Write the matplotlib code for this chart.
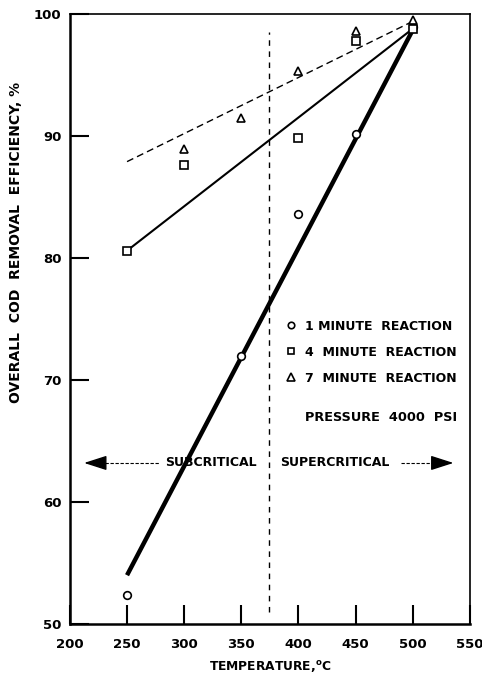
import numpy as np
import matplotlib
matplotlib.use("Agg")
import matplotlib.pyplot as plt

plt.rcParams['font.family'] = ['DejaVu Sans']
plt.rcParams['font.weight'] = 'bold'

# measured COD removal (%) against reactor temperature (C)
temp_1min = [250, 350, 400, 450, 500]
cod_1min = [52.4, 72.0, 83.6, 90.2, 98.9]

temp_4min = [250, 300, 400, 450, 500]
cod_4min = [80.6, 87.6, 89.8, 97.8, 98.8]

temp_7min = [300, 350, 400, 450, 500]
cod_7min = [88.9, 91.5, 95.3, 98.6, 99.5]

# hand-fitted trend lines (end points)
fit_temp = [250, 500]
fit_1min = [54.0, 98.7]
fit_4min = [80.6, 98.8]
fit_7min = [87.9, 99.4]

critical_temp = 374
critical_span = [51.0, 98.5]

xticks = [200, 250, 300, 350, 400, 450, 500, 550]
yticks = [50, 60, 70, 80, 90, 100]

fig = plt.figure(figsize=(4.82, 6.74), dpi=100)
ax = fig.add_axes([0.145, 0.0742, 0.830, 0.905])

ax.plot(fit_temp, fit_1min, color='black', lw=3.2, solid_capstyle='butt', zorder=2)
ax.plot(fit_temp, fit_4min, color='black', lw=1.5, zorder=2)
ax.plot(fit_temp, fit_7min, color='black', lw=1.0, ls=(0, (5, 3)), zorder=2)
ax.plot([critical_temp, critical_temp], critical_span, color='black', lw=1.0,
        ls=(0, (4, 4)), zorder=1)

mk = dict(ls='none', mfc='white', mec='black', mew=1.2, zorder=3)
h1, = ax.plot(temp_1min, cod_1min, marker='o', ms=5.5, label='1 MINUTE  REACTION', **mk)
h2, = ax.plot(temp_4min, cod_4min, marker='s', ms=5.5, label='4  MINUTE  REACTION', **mk)
h3, = ax.plot(temp_7min, cod_7min, marker='^', ms=6, label='7  MINUTE  REACTION', **mk)

leg = ax.legend(handles=[h1, h2, h3], frameon=False, loc='upper left',
                bbox_to_anchor=(0.5425, 0.499), borderaxespad=0, borderpad=0,
                handlelength=0.6, handletextpad=0.85, markerscale=0.85,
                labelspacing=1.05, prop={'size': 9, 'weight': 'bold'})

ax.text(0.5875, 0.338, 'PRESSURE  4000  PSI', transform=ax.transAxes,
        fontsize=9.3, fontweight='bold', va='center', ha='left')

# sub/supercritical arrows
y_arrow = 63.2
ax.plot([226, 278], [y_arrow, y_arrow], color='black', lw=0.8, ls=(0, (3, 1.5)))
ax.plot([490, 524], [y_arrow, y_arrow], color='black', lw=0.8, ls=(0, (3, 1.5)))
head = dict(arrowstyle='-|>,head_length=1.4,head_width=0.45', color='black', lw=1)
ax.annotate('', xy=(210, y_arrow), xytext=(228, y_arrow), arrowprops=head)
ax.annotate('', xy=(538, y_arrow), xytext=(520, y_arrow), arrowprops=head)
ax.text(283, y_arrow, 'SUBCRITICAL', fontsize=9, fontweight='bold',
        ha='left', va='center')
ax.text(383.5, y_arrow, 'SUPERCRITICAL', fontsize=9, fontweight='bold',
        ha='left', va='center')

ax.set_xlim(200, 550)
ax.set_ylim(50, 100)
ax.set_xticks(xticks)
ax.set_yticks(yticks)
ax.tick_params(direction='in', length=14, width=1.5, labelsize=9.5)
ax.tick_params(axis='x', pad=10)
ax.tick_params(axis='y', pad=6)
for lab in ax.get_xticklabels() + ax.get_yticklabels():
    lab.set_fontweight('bold')
for side in ['left', 'bottom']:
    ax.spines[side].set_linewidth(1.8)
for side in ['top', 'right']:
    ax.spines[side].set_linewidth(1.2)

ax.set_xlabel(r'TEMPERATURE,$^{\mathbf{o}}$C', fontsize=8.8, fontweight='bold')
ax.xaxis.set_label_coords(0.5, -0.058)
ax.set_ylabel('OVERALL  COD  REMOVAL  EFFICIENCY, %', fontsize=10,
              fontweight='bold')
ax.yaxis.set_label_coords(-0.118, 0.626)

fig.savefig('out.png', dpi=100)
